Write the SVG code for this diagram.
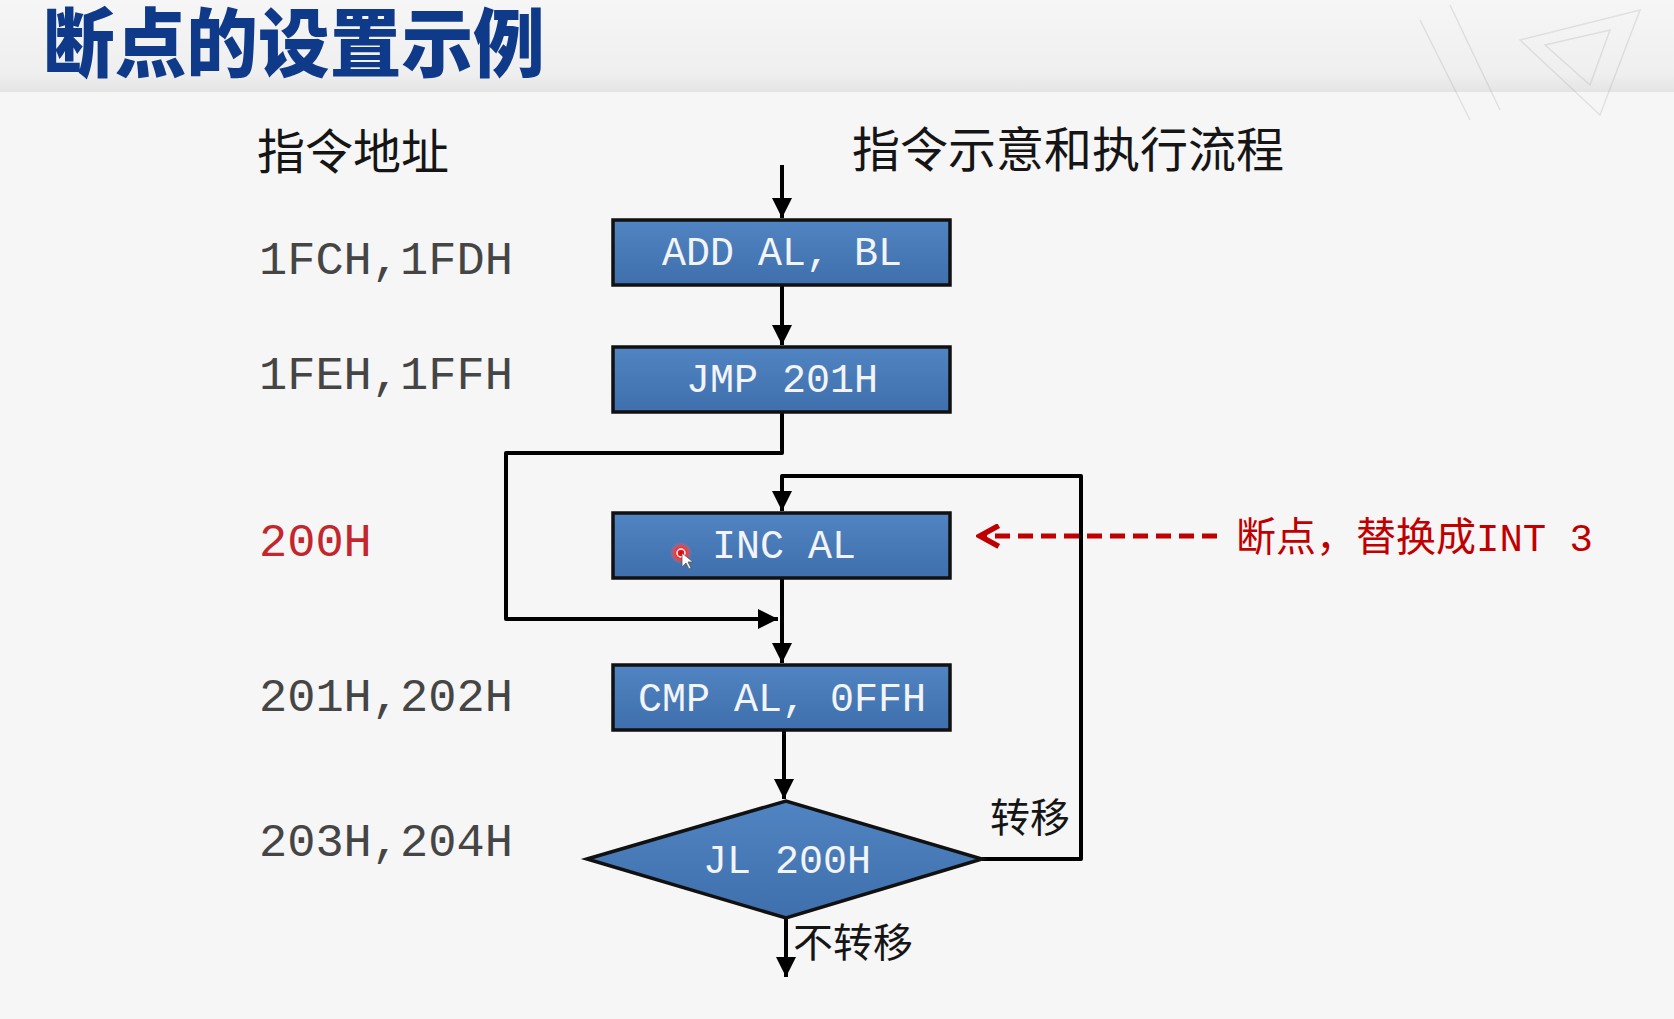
<svg xmlns="http://www.w3.org/2000/svg" width="1674" height="1019" viewBox="0 0 1674 1019">
<defs>
<linearGradient id="hdr" x1="0" y1="0" x2="0" y2="1">
<stop offset="0" stop-color="#f6f6f6"/>
<stop offset="0.8" stop-color="#efefef"/>
<stop offset="1" stop-color="#e4e4e4"/>
</linearGradient>
<linearGradient id="boxg" x1="0" y1="0" x2="0" y2="1">
<stop offset="0" stop-color="#5184c2"/>
<stop offset="1" stop-color="#3f6fad"/>
</linearGradient>
<radialGradient id="dot">
<stop offset="0" stop-color="#e00000"/>
<stop offset="0.5" stop-color="#ff3030"/>
<stop offset="1" stop-color="#ff6060" stop-opacity="0"/>
</radialGradient>
<marker id="ah" viewBox="0 0 10 10" refX="10" refY="5" markerWidth="5" markerHeight="5" markerUnits="strokeWidth" orient="auto">
<path d="M0,0 L10,5 L0,10 z" fill="#000"/>
</marker>
<marker id="rah" viewBox="0 0 12 12" refX="10" refY="6" markerWidth="5" markerHeight="5" markerUnits="strokeWidth" orient="auto">
<path d="M1,1 L10,6 L1,11" fill="none" stroke="#c00000" stroke-width="2.6"/>
</marker>
</defs>
<style>
.box{fill:url(#boxg);stroke:#111;stroke-width:3.5}
.bt{font-family:"Liberation Mono","Courier New",monospace;font-size:40px;fill:#f2f4f8;text-anchor:middle}
.addr{font-family:"Liberation Mono","Courier New",monospace;font-size:47px;fill:#454545}
.cjk{font-family:"Noto Sans CJK SC","Noto Sans",sans-serif;fill:#151515}
.ln{fill:none;stroke:#000;stroke-width:4;stroke-linejoin:round}
</style>
<rect width="1674" height="1019" fill="#f6f6f6"/>
<rect width="1674" height="92" fill="url(#hdr)"/>
<g opacity="0.22" stroke="#9a9a9a" fill="none" stroke-width="1.5">
<path d="M1520,40 L1640,10 L1600,115 Z"/>
<path d="M1545,45 L1610,30 L1590,85 Z"/>
<path d="M1420,20 L1470,120 M1450,5 L1500,110"/>
</g>
<g id="title">
<text transform="translate(43,71) scale(1.07,1.12)" font-family="'Noto Sans CJK SC','Noto Sans',sans-serif" font-weight="900" font-size="67" fill="#0f3a8a">断点的设置示例</text>
</g>
<g id="headers">
<text class="cjk" x="257" y="169" font-size="48">指令地址</text>
<text class="cjk" x="852" y="167" font-size="48">指令示意和执行流程</text>
</g>
<g id="addresses">
<text class="addr" x="259" y="274">1FCH,1FDH</text>
<text class="addr" x="259" y="389">1FEH,1FFH</text>
<text class="addr" x="259" y="556" style="fill:#c4262d">200H</text>
<text class="addr" x="259" y="711">201H,202H</text>
<text class="addr" x="259" y="856">203H,204H</text>
</g>
<g id="connectors">
<path class="ln" d="M782,165 V218" marker-end="url(#ah)"/>
<path class="ln" d="M782,285 V345" marker-end="url(#ah)"/>
<path class="ln" d="M782,412 V453 H506 V619 H778" marker-end="url(#ah)"/>
<path class="ln" d="M782,578 V663" marker-end="url(#ah)"/>
<path class="ln" d="M784,730 V799" marker-end="url(#ah)"/>
<path class="ln" d="M982,859 H1081 V476 H782 V511" marker-end="url(#ah)"/>
<path class="ln" d="M786,918 V977" marker-end="url(#ah)"/>
<path d="M1217,536 H980" fill="none" stroke="#c00000" stroke-width="5" stroke-dasharray="15,8" marker-end="url(#rah)"/>
</g>
<g id="n-add"><rect class="box" x="613" y="220" width="337" height="65"/><text class="bt" x="782" y="265">ADD AL, BL</text></g>
<g id="n-jmp"><rect class="box" x="613" y="347" width="337" height="65"/><text class="bt" x="782" y="392">JMP 201H</text></g>
<g id="n-inc"><rect class="box" x="613" y="513" width="337" height="65"/><text class="bt" x="784" y="558">INC AL</text>
<circle cx="681" cy="553" r="11" fill="url(#dot)"/><circle cx="681" cy="553" r="4" fill="none" stroke="#fff" stroke-width="1.5"/>
<path d="M682,553 L682,567 L686,563 L689,569 L691,568 L688,562 L693,562 Z" fill="#fff" stroke="#555" stroke-width="0.8"/>
</g>
<g id="n-cmp"><rect class="box" x="613" y="665" width="337" height="65"/><text class="bt" x="782" y="711">CMP AL, 0FFH</text></g>
<g id="n-jl"><path class="box" d="M587,859 L786,801 L982,859 L786,918 Z"/><text class="bt" x="787" y="873">JL 200H</text></g>
<g id="labels">
<text class="cjk" x="990" y="832" font-size="40">转移</text>
<text class="cjk" x="793" y="957" font-size="40">不转移</text>
<text x="1236" y="551" font-family="'Noto Sans CJK SC','Noto Sans',sans-serif" font-size="40" fill="#c00000">断点，替换成<tspan font-family="'Liberation Mono','Courier New',monospace" font-size="39">INT 3</tspan></text>
</g>
</svg>
